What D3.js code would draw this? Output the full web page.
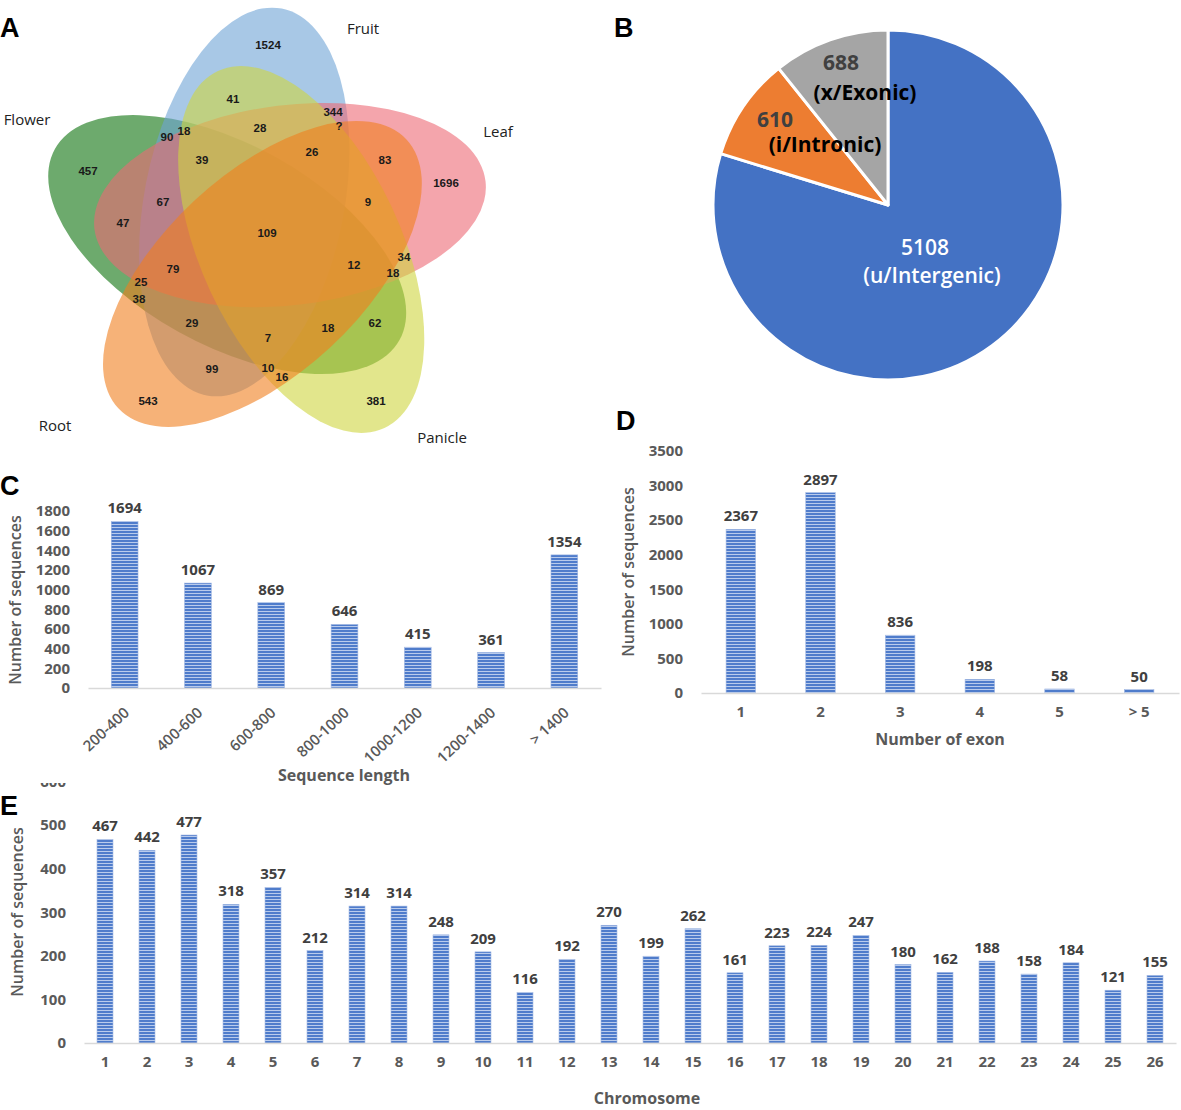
<!DOCTYPE html>
<html><head><meta charset="utf-8">
<script src="https://cdn.jsdelivr.net/npm/d3@7/dist/d3.min.js"></script>
<style>body{margin:0;background:#fff}svg{display:block}</style>
</head><body>
<script>
// ---------- DATA ----------
const vennSets = ["Flower", "Fruit", "Leaf", "Panicle", "Root"];
const vennCounts = ["1524","41","344","?","28","90","18","26","83","39","457","1696","67","9","47","109","34","12","79","18","25","38","29","62","18","7","99","10","16","543","381"];

const pieCategories = ["u/Intergenic", "i/Intronic", "x/Exonic"];
const pieValues = [5108, 610, 688];

const lengthCats = ["200-400","400-600","600-800","800-1000","1000-1200","1200-1400","> 1400"];
const lengthCounts = [1694, 1067, 869, 646, 415, 361, 1354];
const lengthTicks = [0,200,400,600,800,1000,1200,1400,1600,1800];

const exonCats = ["1","2","3","4","5","> 5"];
const exonCounts = [2367, 2897, 836, 198, 58, 50];
const exonTicks = [0,500,1000,1500,2000,2500,3000,3500];

const chromCats = ["1","2","3","4","5","6","7","8","9","10","11","12","13","14","15","16","17","18","19","20","21","22","23","24","25","26"];
const chromCounts = [467,442,477,318,357,212,314,314,248,209,116,192,270,199,262,161,223,224,247,180,162,188,158,184,121,155];
const chromTicks = [0,100,200,300,400,500,600];

// ---------- LAYOUT ----------
const vennLabelPos = [[268,45],[233,99],[333,112],[339,126],[260,128],[167,137],[184,131],[312,152],[385,160],[202,160],[88,171],[446,183],[163,202],[368,202],[123,223],[267,233],[404,257],[354,265],[173,269],[393,273],[141,282],[139,299],[192,323],[375,323],[328,328],[268,338],[212,369],[268,368],[282,377],[148,401],[376,401]];
const vennSetLabelPos = {Flower:[27,119], Fruit:[363,28], Leaf:[498,131], Panicle:[442,437], Root:[55,425]};
const vennColors = {Flower:"#0c710c", Fruit:"#6ea3d5", Leaf:"#ed6975", Panicle:"#cfd53f", Root:"#f07f1e"};
const vennSlot = {Leaf:0, Fruit:1, Flower:2, Root:3, Panicle:4};
const drawOrder = ["Flower","Fruit","Leaf","Panicle","Root"];

const svg = d3.select("body").append("svg").attr("width",1181).attr("height",1110);
const defs = svg.append("defs");
const pat = defs.append("pattern").attr("id","stripes").attr("patternUnits","userSpaceOnUse")
  .attr("width",4).attr("height",3);
pat.append("rect").attr("width",4).attr("height",3).attr("fill","#4f7ccb");
pat.append("rect").attr("y",2).attr("width",4).attr("height",1).attr("fill","#b9cbec");

const sans = "'Open Sans', 'Liberation Sans', sans-serif";
const arial = "'Liberation Sans', Arial, sans-serif";

[["A",0,37],["B",614,37],["C",0,495],["D",616,430],["E",0,815]].forEach(([t,x,y])=>{
  svg.append("text").attr("x",x).attr("y",y).text(t)
    .attr("font-family",arial).attr("font-weight","bold").attr("font-size",27).attr("fill","#000");
});

// ---------- A: Venn ----------
{
  const C = [265,235], ra = 197, rb = 100, off = 39, offAng = -50.2, tilt0 = -7;
  const g = svg.append("g");
  g.selectAll("ellipse").data(drawOrder).join("ellipse")
    .each(function(d){
      const k = vennSlot[d];
      const a = (offAng - 72*k) * Math.PI/180;
      const cx = C[0] + off*Math.cos(a), cy = C[1] + off*Math.sin(a);
      d3.select(this).attr("transform",`translate(${cx},${cy}) rotate(${tilt0-72*k})`);
    })
    .attr("rx",ra).attr("ry",rb)
    .attr("fill",d=>vennColors[d]).attr("fill-opacity",0.6);
  g.selectAll("text.cnt").data(vennCounts).join("text").attr("class","cnt")
    .attr("x",(d,i)=>vennLabelPos[i][0]).attr("y",(d,i)=>vennLabelPos[i][1])
    .attr("text-anchor","middle").attr("dominant-baseline","central")
    .attr("font-family",arial).attr("font-weight","bold").attr("font-size",11.5).attr("fill","#1a1a1a")
    .text(d=>d);
  g.selectAll("text.set").data(vennSets).join("text").attr("class","set")
    .attr("x",d=>vennSetLabelPos[d][0]).attr("y",d=>vennSetLabelPos[d][1])
    .attr("text-anchor","middle").attr("dominant-baseline","central")
    .attr("font-family",sans).attr("font-size",15).attr("fill","#222")
    .text(d=>d);
}

// ---------- B: Pie ----------
{
  const cx = 888, cy = 205, R = 175;
  const colors = ["#4472c4","#ed7d31","#a5a5a5"];
  const pie = d3.pie().sort(null).value(d=>d)(pieValues);
  const arc = d3.arc().innerRadius(0).outerRadius(R);
  const g = svg.append("g").attr("transform",`translate(${cx},${cy})`);
  g.selectAll("path").data(pie).join("path").attr("d",arc)
    .attr("fill",(d,i)=>colors[i]).attr("stroke","#fff").attr("stroke-width",3).attr("stroke-linejoin","round");
  const lines = [
    {t:String(pieValues[0]), dx:37, dy:42, c:"#fff", w:600, s:21},
    {t:"("+pieCategories[0]+")", dx:44, dy:70, c:"#fff", w:600, s:21},
    {t:String(pieValues[1]), dx:-113, dy:-86, c:"#404040", w:"bold", s:21},
    {t:"("+pieCategories[1]+")", dx:-63, dy:-61, c:"#000", w:"bold", s:21},
    {t:String(pieValues[2]), dx:-47, dy:-143, c:"#404040", w:"bold", s:21},
    {t:"("+pieCategories[2]+")", dx:-23, dy:-113, c:"#000", w:"bold", s:21}
  ];
  g.selectAll("text").data(lines).join("text")
    .attr("x",d=>d.dx).attr("y",d=>d.dy).attr("text-anchor","middle").attr("dominant-baseline","central")
    .attr("font-family",sans).attr("font-size",d=>d.s).attr("font-weight",d=>d.w).attr("fill",d=>d.c)
    .text(d=>d.t);
}

// ---------- bar chart helper ----------
function barChart(o){
  const g = svg.append("g");
  if(o.clip){
    defs.append("clipPath").attr("id",o.clip.id).append("rect")
      .attr("x",0).attr("y",o.clip.y).attr("width",1181).attr("height",1110);
    g.attr("clip-path",`url(#${o.clip.id})`);
  }
  const x = d3.scaleBand().domain(o.cats).range(o.xr).paddingInner(o.pad).paddingOuter(o.pad/2);
  const y = d3.scaleLinear().domain([0,d3.max(o.ticks)]).range(o.yr);
  const ya = g.append("g").attr("transform",`translate(${o.xr[0]},0)`)
    .call(d3.axisLeft(y).tickValues(o.ticks).tickFormat(d3.format("d")).tickSize(0).tickPadding(18));
  ya.select(".domain").remove();
  ya.selectAll("text").attr("font-family",sans).attr("font-size",15).attr("font-weight","bold").attr("fill","#595959");
  g.selectAll("rect.bar").data(o.vals).join("rect").attr("class","bar")
    .attr("x",(d,i)=>x(o.cats[i])).attr("width",x.bandwidth())
    .attr("y",d=>y(d)).attr("height",d=>y(0)-y(d))
    .attr("fill","url(#stripes)").attr("stroke","#9fb6e2").attr("stroke-width",0.6);
  g.selectAll("text.val").data(o.vals).join("text").attr("class","val")
    .attr("x",(d,i)=>x(o.cats[i])+x.bandwidth()/2).attr("y",d=>y(d)-8)
    .attr("text-anchor","middle")
    .attr("font-family",sans).attr("font-size",15).attr("font-weight","bold").attr("fill","#404040")
    .text(d=>d);
  const xa = g.append("g").attr("transform",`translate(0,${o.yr[0]})`)
    .call(d3.axisBottom(x).tickSize(0).tickSizeOuter(0).tickPadding(13));
  xa.select(".domain").attr("stroke","#d9d9d9").attr("stroke-width",1.5);
  xa.selectAll("text").attr("font-family",sans).attr("font-size",15).attr("font-weight","bold").attr("fill","#595959");
  if(o.rot){
    xa.selectAll("text").attr("text-anchor","end").attr("dy","0.35em").attr("y",0)
      .attr("font-size",15).attr("font-weight",600)
      .attr("transform","translate(2,22) rotate(-43)");
  }
  g.append("text").attr("transform",`translate(${o.yt[0]},${o.yt[1]}) rotate(-90)`)
    .attr("text-anchor","middle").attr("dominant-baseline","central")
    .attr("font-family",sans).attr("font-size",16).attr("font-weight",600).attr("fill","#595959")
    .text("Number of sequences");
  g.append("text").attr("x",o.xt[0]).attr("y",o.xt[1])
    .attr("text-anchor","middle").attr("dominant-baseline","central")
    .attr("font-family",sans).attr("font-size",16).attr("font-weight","bold").attr("fill","#595959")
    .text(o.xtitle);
}

barChart({cats:lengthCats, vals:lengthCounts, ticks:lengthTicks, xr:[88,601], yr:[688,511], pad:0.635,
  rot:true, yt:[15,600], xt:[344,775], xtitle:"Sequence length"});
barChart({cats:exonCats, vals:exonCounts, ticks:exonTicks, xr:[701,1179], yr:[693,451], pad:0.63,
  yt:[628,572], xt:[940,739], xtitle:"Number of exon"});
barChart({cats:chromCats, vals:chromCounts, ticks:chromTicks, xr:[84,1176], yr:[1043,781.4], pad:0.62,
  yt:[17,912], xt:[647,1098], xtitle:"Chromosome", clip:{id:"clipE", y:783}});
</script>
</body></html>
